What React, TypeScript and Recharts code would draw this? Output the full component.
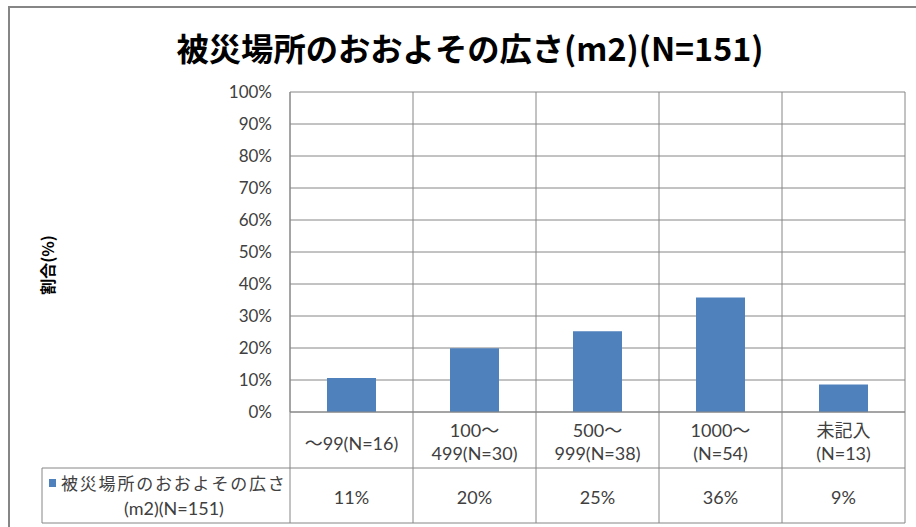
import React from 'react';
import { BarChart, Bar, XAxis, YAxis, CartesianGrid, Customized } from 'recharts';

// 被災場所のおおよその広さ (m2), N=151
const categories = ['～99(N=16)', '100～\n499(N=30)', '500～\n999(N=38)', '1000～\n(N=54)', '未記入\n(N=13)'];
const values = [10.6, 19.9, 25.2, 35.8, 8.6];
const yTicks = [0, 10, 20, 30, 40, 50, 60, 70, 80, 90, 100];
const seriesName = ['被災場所のおおよその広さ', '(m2)(N=151)'];
const title = '被災場所のおおよその広さ(m2)(N=151)';

const chartData = categories.map((name, i) => ({ name, value: values[i] }));

const W = 916;
const H = 527;
const PLOT_LEFT = 290;
const PLOT_TOP = 92;
const PLOT_RIGHT = 905;
const PLOT_BOTTOM = 412;
const ROW_DIV = 468;
const TABLE_BOTTOM = 523;
const TABLE_LEFT = 42;
const BAND = (PLOT_RIGHT - PLOT_LEFT) / categories.length;

const GRID = '#868686';
const BLUE = '#4F81BD';
const TEXT = '#404040';
const FONT = "Lato, 'Noto Sans CJK JP', sans-serif";

const CategoryTick = (props: any) => {
  const { x, y, index } = props;
  const lines = categories[index].split('\n');
  const left = x - BAND / 2;
  const last = index === categories.length - 1;
  return (
    <g>
      <line x1={left} y1={PLOT_TOP} x2={left} y2={TABLE_BOTTOM} stroke={GRID} />
      {last && <line x1={left + BAND} y1={PLOT_TOP} x2={left + BAND} y2={TABLE_BOTTOM} stroke={GRID} />}
      <text textAnchor="middle" fill={TEXT} fontSize={18} fontFamily={FONT} dominantBaseline="central">
        {lines.length === 1 ? (
          <tspan x={x} y={y + 31}>{lines[0]}</tspan>
        ) : (
          lines.map((l, i) => (
            <tspan key={i} x={x} y={y + 18 + i * 23}>{l}</tspan>
          ))
        )}
      </text>
      <text x={x} y={y + 85} textAnchor="middle" fill={TEXT} fontSize={18} fontFamily={FONT} dominantBaseline="central">
        {Math.round(values[index])}%
      </text>
    </g>
  );
};

const Frame = () => (
  <g>
    <rect x={9} y={7} width={W + 20} height={H + 20} fill="none" stroke={GRID} strokeWidth={2} />
    <text x={470} y={47} textAnchor="middle" dominantBaseline="central" fontSize={32.3} fontWeight="bold" fill="#000" fontFamily="'Noto Sans CJK JP', sans-serif">
      {title}
    </text>
    <text
      x={47}
      y={265}
      transform="rotate(-90 47 265)"
      textAnchor="middle"
      dominantBaseline="central"
      fontSize={16}
      fontWeight="bold"
      fill="#000"
      fontFamily="'Noto Sans CJK JP', sans-serif"
    >
      割合(%)
    </text>
    <line x1={TABLE_LEFT} y1={ROW_DIV} x2={PLOT_RIGHT} y2={ROW_DIV} stroke={GRID} />
    <line x1={TABLE_LEFT} y1={TABLE_BOTTOM} x2={PLOT_RIGHT} y2={TABLE_BOTTOM} stroke={GRID} />
    <line x1={TABLE_LEFT} y1={ROW_DIV} x2={TABLE_LEFT} y2={TABLE_BOTTOM} stroke={GRID} />
    <rect x={49} y={479} width={7} height={8} fill={BLUE} />
    <text x={61} y={483} fill={TEXT} fontSize={17} letterSpacing={1.8} fontFamily={FONT} dominantBaseline="central">
      {seriesName[0]}
    </text>
    <text x={174} y={508} textAnchor="middle" fill={TEXT} fontSize={18} fontFamily={FONT} dominantBaseline="central">
      {seriesName[1]}
    </text>
  </g>
);

export default function App() {
  return (
    <div style={{ position: 'absolute', left: 0, top: 0, width: W, height: H, background: '#fff', overflow: 'hidden' }}>
      <BarChart
        width={W}
        height={H}
        data={chartData}
        margin={{ top: PLOT_TOP, right: W - PLOT_RIGHT, bottom: 4, left: PLOT_LEFT - 60 }}
        barSize={49}
      >
        <CartesianGrid vertical={false} stroke={GRID} />
        <YAxis
          width={60}
          domain={[0, 100]}
          ticks={yTicks}
          interval={0}
          tickFormatter={(v: number) => `${v}%`}
          axisLine={{ stroke: GRID }}
          tickLine={false}
          tickSize={0}
          tickMargin={18}
          tick={{ fill: TEXT, fontSize: 17, fontFamily: FONT }}
        />
        <XAxis
          dataKey="name"
          height={H - 4 - PLOT_BOTTOM}
          interval={0}
          axisLine={{ stroke: GRID }}
          tickLine={false}
          tickSize={0}
          tickMargin={0}
          tick={<CategoryTick />}
        />
        <Bar dataKey="value" fill={BLUE} isAnimationActive={false} />
        <Customized component={Frame} />
      </BarChart>
    </div>
  );
}
